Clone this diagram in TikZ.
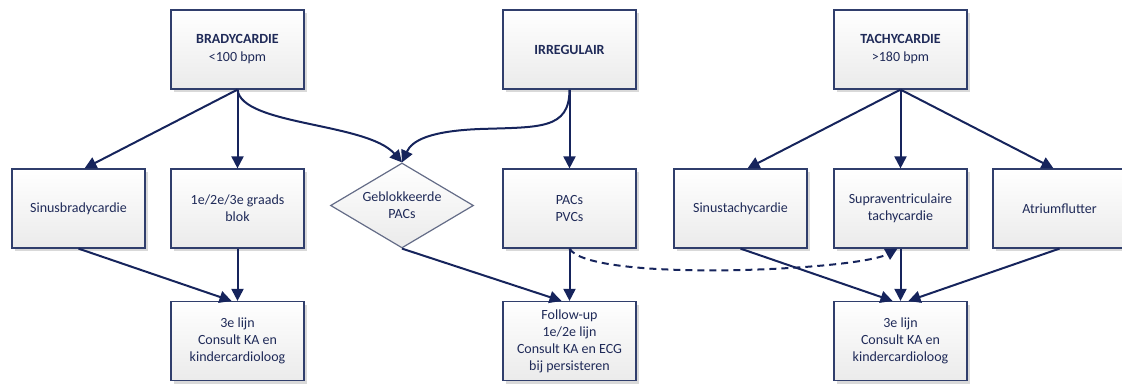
\documentclass[tikz,border=0pt]{standalone}
\usepackage{fontspec}
\setmainfont{Carlito}
\usetikzlibrary{arrows.meta,shapes.geometric,shadows}
\definecolor{txtc}{RGB}{31,42,88}
\definecolor{linec}{RGB}{22,36,92}
\definecolor{boxc}{RGB}{48,62,108}
\definecolor{diac}{RGB}{100,108,135}
\tikzset{
  box/.style={draw=boxc, line width=1.2pt, top color=white, bottom color=black!8,
    minimum width=133pt, minimum height=79pt, inner sep=2pt, align=center,
    text=txtc, font=\fontsize{14}{17}\selectfont,
    drop shadow={shadow xshift=3pt, shadow yshift=-3pt, fill=black!15, opacity=1}},
  dia/.style={diamond, draw=diac, line width=1.2pt, top color=white, bottom color=black!8,
    minimum width=143pt, minimum height=85pt, aspect=1.68, inner sep=0pt, align=center,
    text=txtc, font=\fontsize{14}{17}\selectfont},
  conn/.style={draw=linec, line width=2pt, -{Triangle[length=12pt,width=12pt]}},
  dconn/.style={conn, dash pattern=on 7pt off 5pt}
}
\begin{document}
\begin{tikzpicture}[x=1pt,y=-1pt]
\useasboundingbox (0,0) rectangle (1122,383);
\clip (0,0) rectangle (1122,383);
% top row
\node[box] (brady) at (237.5,49.5) {\textbf{BRADYCARDIE}\\[1pt]{<}100 bpm};
\node[box] (irr) at (569.5,49.5) {\textbf{IRREGULAIR}};
\node[box] (tachy) at (900.5,49.5) {\textbf{TACHYCARDIE}\\[1pt]{>}180 bpm};
% middle row
\node[box] (sbrady) at (78.5,208.5) {Sinusbradycardie};
\node[box] (blok) at (237.5,208.5) {1e/2e/3e graads\\blok};
\node[dia] (geb) at (402,205.5) {Geblokkeerde\\PACs};
\node[box] (pacs) at (569.5,208.5) {PACs\\PVCs};
\node[box] (stachy) at (740.5,208.5) {Sinustachycardie};
\node[box] (svt) at (900.5,208.5) {Supraventriculaire\\tachycardie};
\node[box] (af) at (1059.5,208.5) {Atriumflutter};
% bottom row
\node[box] (lijn1) at (237.5,341) {3e lijn\\Consult KA en\\kindercardioloog};
\node[box] (fu) at (569.5,341) {Follow-up\\1e/2e lijn\\Consult KA en ECG\\bij persisteren};
\node[box] (lijn2) at (900.5,341) {3e lijn\\Consult KA en\\kindercardioloog};
% connectors from top row
\draw[conn] (brady.south) -- ([xshift=6pt]sbrady.north);
\draw[conn] (brady.south) -- (blok.north);
\draw[conn] (brady.south) .. controls +(4,36) and +(-35,-40) .. (geb.north);
\draw[conn] (irr.south) .. controls +(0,40) and +(60,-2) .. (480,129) .. controls +(-50,2) and +(10,-22) .. (geb.north);
\draw[conn] (irr.south) -- (pacs.north);
\draw[conn] (tachy.south) -- ([xshift=7pt]stachy.north);
\draw[conn] (tachy.south) -- (svt.north);
\draw[conn] (tachy.south) -- ([xshift=-6pt]af.north);
% connectors to bottom row
\draw[conn] (sbrady.south) -- ([xshift=-6pt]lijn1.north);
\draw[conn] (blok.south) -- (lijn1.north);
\draw[conn] (geb.south) -- ([xshift=-8pt]fu.north);
\draw[conn] (pacs.south) -- (fu.north);
\draw[dconn] (pacs.south) .. controls +(20,34) and +(-40,22) .. ([xshift=-3pt]svt.south);
\draw[conn] (stachy.south) -- ([xshift=-8pt]lijn2.north);
\draw[conn] (svt.south) -- (lijn2.north);
\draw[conn] (af.south) -- ([xshift=8pt]lijn2.north);
\end{tikzpicture}
\end{document}
